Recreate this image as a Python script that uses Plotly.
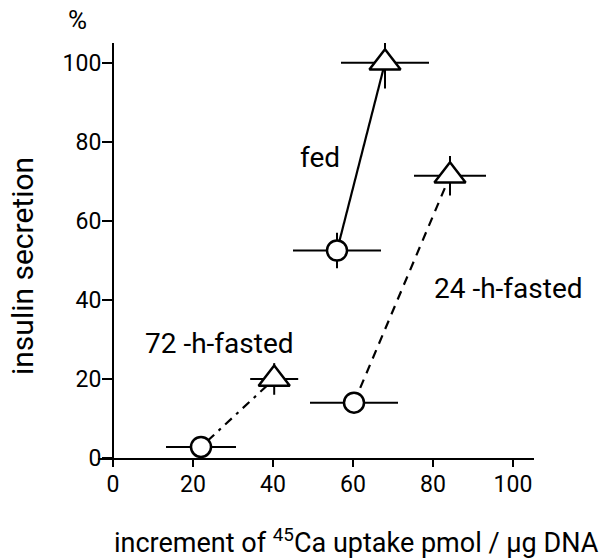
import plotly.graph_objects as go

# ---- data ----
x_ticks = [0, 20, 40, 60, 80, 100]
y_ticks = [0, 20, 40, 60, 80, 100]

fed_x = [56, 68]
fed_y = [52.5, 100]
fed_xerr = [11, 11]
fed_yerr = [4.5, 6.5]

f24_x = [60.25, 84.25]
f24_y = [14, 71.4]
f24_xerr = [11, 9]
f24_yerr = [0, 5]

f72_x = [22, 40.3]
f72_y = [2.8, 20]
f72_xerr = [8.75, 6]
f72_yerr = [0, 4]

symbols = ["circle", "triangle-up"]
sizes = [20, 27]

labels = [("fed", 51.75, 76), ("24 -h-fasted", 98.75, 42.8), ("72 -h-fasted", 26.5, 29)]

FONT = "Roboto, DejaVu Sans, sans-serif"

fig = go.Figure()

groups = [
    (fed_x, fed_y, fed_xerr, fed_yerr, "solid"),
    (f24_x, f24_y, f24_xerr, f24_yerr, "9px,7px"),
    (f72_x, f72_y, f72_xerr, f72_yerr, "3px,6px,9px,6px"),
]

# error bars first (beneath markers)
for gx, gy, ex, ey, dash in groups:
    fig.add_trace(go.Scatter(
        x=gx, y=gy, mode="markers",
        marker=dict(size=1, color="rgba(0,0,0,0)", opacity=1),
        error_x=dict(type="data", array=ex, symmetric=True, width=0, thickness=2, color="black"),
        error_y=dict(type="data", array=ey, symmetric=True, width=0, thickness=2, color="black"),
        showlegend=False, cliponaxis=False, hoverinfo="skip",
    ))

# connecting lines and open markers
for gx, gy, ex, ey, dash in groups:
    fig.add_trace(go.Scatter(
        x=gx, y=gy, mode="lines+markers",
        line=dict(color="black", width=2.2, dash=dash),
        marker=dict(symbol=symbols, size=sizes, opacity=1,
                    color="white", line=dict(color="black", width=2.5)),
        showlegend=False, cliponaxis=False,
    ))

for txt, lx, ly in labels:
    fig.add_annotation(x=lx, y=ly, xref="x", yref="y", text=txt, showarrow=False,
                       xanchor="center", yanchor="middle",
                       font=dict(family=FONT, size=28, color="black"))

# plot area in pixels: x 98..534, y 43..458
fig.add_annotation(x=(77 - 98) / 436, y=(458 - 20) / 415, xref="paper", yref="paper",
                   xanchor="center", yanchor="middle", text="%", showarrow=False,
                   font=dict(family=FONT, size=26, color="black"))
fig.add_annotation(x=(22 - 98) / 436, y=(458 - 266) / 415, xref="paper", yref="paper",
                   xanchor="center", yanchor="middle",
                   text="insulin secretion", textangle=-90, showarrow=False,
                   font=dict(family=FONT, size=30, color="black"))
fig.add_annotation(x=(112 - 98) / 436, y=(458 - 541) / 415, xref="paper", yref="paper",
                   xanchor="left", yanchor="middle",
                   text="increment of <sup>45</sup>Ca uptake pmol / µg DNA",
                   showarrow=False, font=dict(family=FONT, size=27, color="black"))

fig.update_layout(
    width=613, height=558,
    margin=dict(l=98, r=79, t=43, b=100),
    paper_bgcolor="white", plot_bgcolor="white",
    font=dict(family=FONT, size=23, color="black"),
    xaxis=dict(range=[-3.75, 105.25], tickvals=x_ticks, ticks="outside", ticklen=7, tickwidth=2,
               tickcolor="black", showline=True, linewidth=2, linecolor="black",
               showgrid=False, zeroline=False, anchor="y", ticklabelstandoff=-3),
    yaxis=dict(range=[0, 105], tickvals=y_ticks, ticks="outside", ticklen=10, tickwidth=2,
               tickcolor="black", showline=True, linewidth=2, linecolor="black",
               showgrid=False, zeroline=False, anchor="free", position=(113 - 98) / 436,
               ticklabelstandoff=-4),
)

fig.write_html("out.html", config={"displayModeBar": False},
               post_script="document.body.style.margin='0px'; document.body.style.overflow='hidden';")
